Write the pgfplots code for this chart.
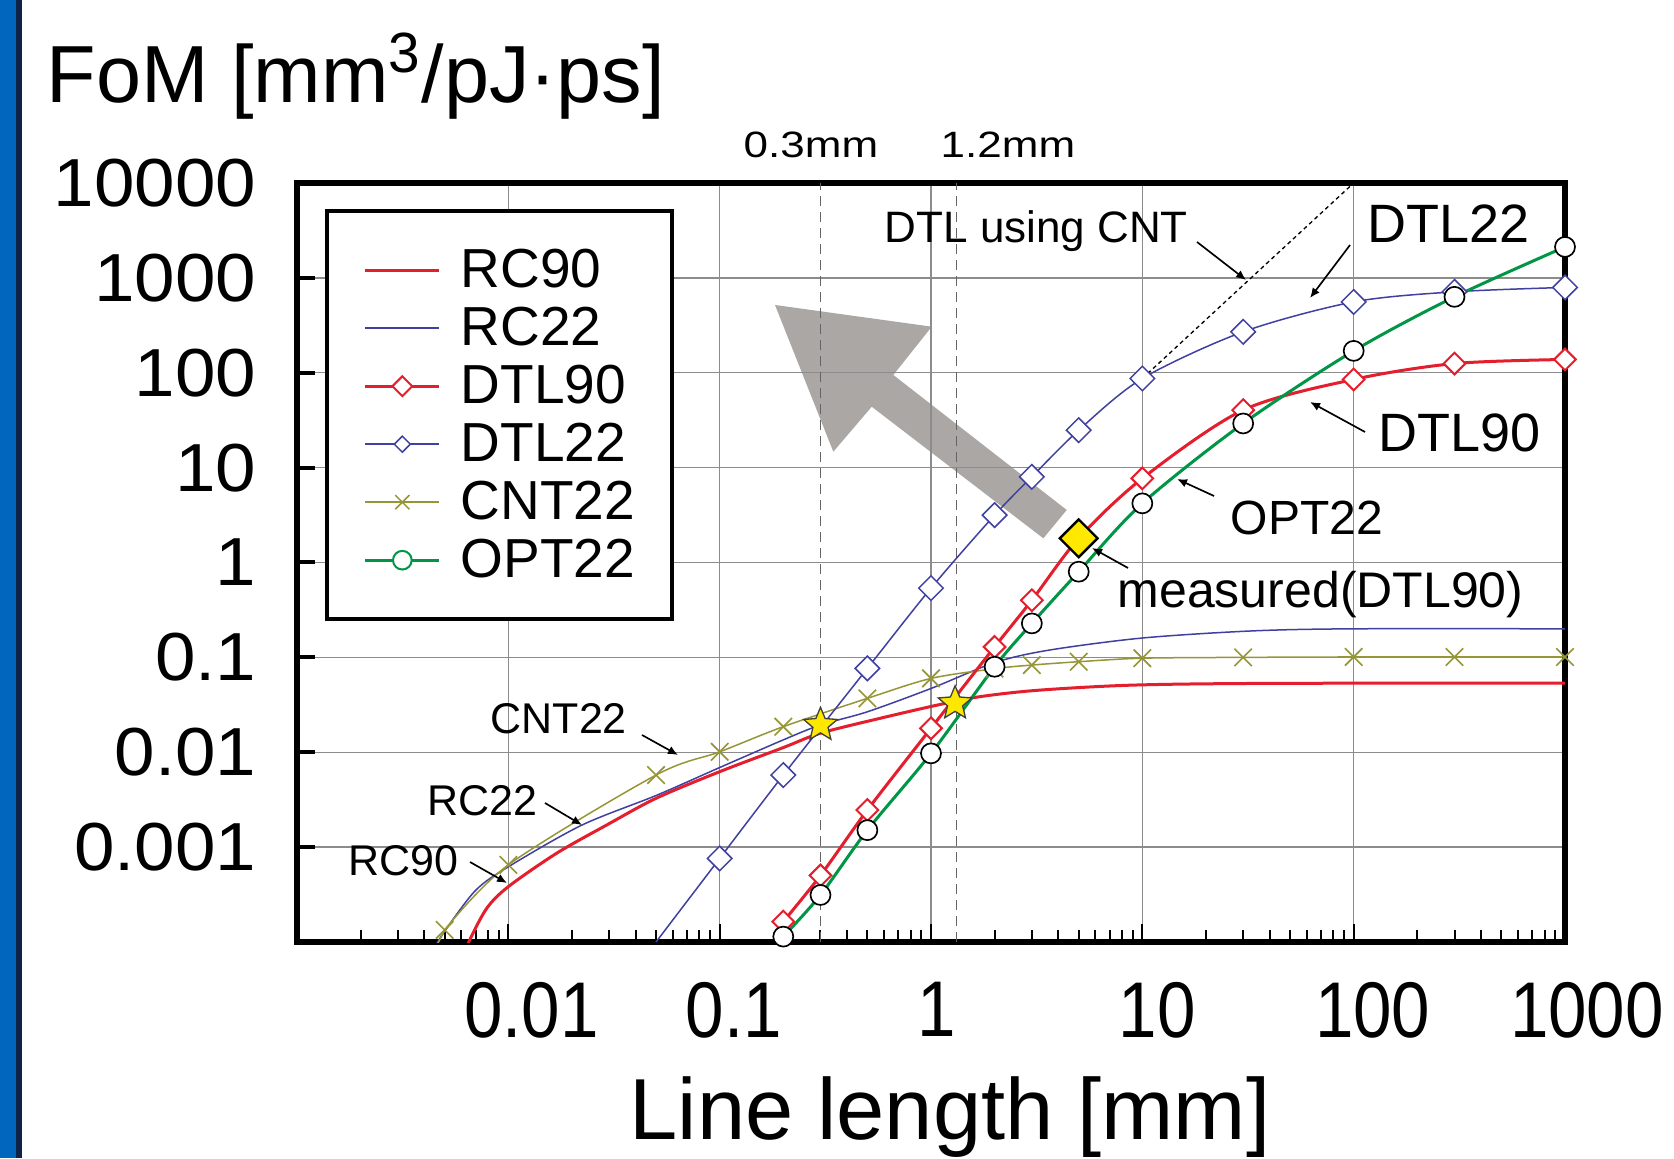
\documentclass[border=0pt]{standalone}
\usepackage{fontspec}
\setmainfont{Liberation Sans}
\newfontfamily\xtf[FakeStretch=0.875]{Liberation Sans}
\newfontfamily\ytf[FakeStretch=1.07]{Liberation Sans}
\newfontfamily\mmf[FakeStretch=1.2]{Liberation Sans}
\usepackage{pgfplots}
\pgfplotsset{compat=1.18}
\usetikzlibrary{arrows.meta}

\definecolor{cred}{RGB}{228,30,45}
\definecolor{cblue}{RGB}{64,64,160}
\definecolor{colive}{RGB}{150,150,55}
\definecolor{cgreen}{RGB}{0,150,70}
\definecolor{cgrid}{RGB}{140,140,140}
\definecolor{cdash}{RGB}{100,100,100}
\definecolor{carrow}{RGB}{170,167,165}
\definecolor{cyellow}{RGB}{255,232,0}
\definecolor{slideblue}{RGB}{0,102,190}
\definecolor{slideedge}{RGB}{15,35,70}

\newcommand{\fs}[1]{\fontsize{#1}{#1}\selectfont}
% shift a tick label right by half of #1
\newcommand{\xs}[2]{\hspace*{#1}#2}

% filled five-pointed star
\pgfdeclareplotmark{fstar}{%
  \pgfpathmoveto{\pgfpointpolar{90}{\pgfplotmarksize}}%
  \pgfpathlineto{\pgfpointpolar{126}{0.45\pgfplotmarksize}}%
  \pgfpathlineto{\pgfpointpolar{162}{\pgfplotmarksize}}%
  \pgfpathlineto{\pgfpointpolar{198}{0.45\pgfplotmarksize}}%
  \pgfpathlineto{\pgfpointpolar{234}{\pgfplotmarksize}}%
  \pgfpathlineto{\pgfpointpolar{270}{0.45\pgfplotmarksize}}%
  \pgfpathlineto{\pgfpointpolar{306}{\pgfplotmarksize}}%
  \pgfpathlineto{\pgfpointpolar{342}{0.45\pgfplotmarksize}}%
  \pgfpathlineto{\pgfpointpolar{18}{\pgfplotmarksize}}%
  \pgfpathlineto{\pgfpointpolar{54}{0.45\pgfplotmarksize}}%
  \pgfpathclose
  \pgfusepathqfillstroke}

\begin{document}
\begin{tikzpicture}
\useasboundingbox (0,0) rectangle (502.2pt,347.4pt);
% background pieces, in pixels of the reference (y downwards)
\begin{scope}[x=0.3pt,y=-0.3pt,yshift=347.4pt]
  \fill[white] (0,0) rectangle (1674,1158);
  \fill[slideblue] (0,0) rectangle (16,1158);
  \fill[slideedge] (16,0) rectangle (22,1158);
  % big grey arrow, under the grid
  \fill[carrow] (775,305) -- (931.7,326.7) -- (893.3,375) -- (1066.7,510)
    -- (1043.3,538.3) -- (871.7,406.7) -- (833.3,451.7) -- cycle;
\end{scope}

\begin{axis}[
  at={(89.1pt,64.8pt)}, anchor=south west,
  scale only axis, width=380.4pt, height=227.7pt,
  xmode=log, ymode=log,
  xmin=0.001, xmax=1000, ymin=0.0001, ymax=10000,
  axis line style={line width=1.8pt},
  tick pos=left, tick align=inside,
  major tick length=5.4pt, minor tick length=3.6pt,
  xtick={0.01,0.1,1,10,100,1000},
  xticklabels={\xs{13.8pt}{0.01},\xs{8.4pt}{0.1},\xs{3.6pt}{1},\xs{9pt}{10},\xs{11.4pt}{100},\xs{13.2pt}{1000}},
  minor xtick={0.002,0.003,0.004,0.005,0.006,0.007,0.008,0.009,
               0.02,0.03,0.04,0.05,0.06,0.07,0.08,0.09,
               0.2,0.3,0.4,0.5,0.6,0.7,0.8,0.9,
               2,3,4,5,6,7,8,9,20,30,40,50,60,70,80,90,
               200,300,400,500,600,700,800,900},
  ytick={0.001,0.01,0.1,1,10,100,1000,10000},
  yticklabels={0.001,0.01,0.1,1,10,100,1000,10000},
  minor ytick={},
  minor y tick style={draw=none},
  xtick style={line width=0.6pt, black},
  ytick style={line width=1.2pt, black},
  xticklabel style={font=\xtf\fs{23.7pt}, inner sep=0pt, anchor=north, yshift=-11.9pt},
  yticklabel style={font=\ytf\fs{20.4pt}, inner sep=0pt, anchor=east, xshift=-12pt},
  grid=major,
  major grid style={line width=0.4pt, draw=cgrid},
  legend style={at={(0.0221,0.9657)}, anchor=north west, draw=black,
    line width=1.3pt, fill=white, font=\fs{16.5pt},
    inner xsep=11pt, inner ysep=9pt, row sep=0pt,
    nodes={inner sep=0pt, text height=13.8pt, text depth=3.6pt},
    /tikz/every odd column/.append style={column sep=6pt}},
  legend cell align=left,
  legend image code/.code={\draw[mark repeat=2,mark phase=2]
    plot coordinates {(0pt,0pt)(11.1pt,0pt)(22.2pt,0pt)};},
]

% legend entries
\addlegendimage{cred, line width=0.9pt}
\addlegendentry{RC90}
\addlegendimage{cblue, line width=0.45pt}
\addlegendentry{RC22}
\addlegendimage{cred, line width=0.9pt, mark=square*, mark size=2.1pt,
  mark options={rotate=45, fill=white, draw=cred, line width=0.6pt}}
\addlegendentry{DTL90}
\addlegendimage{cblue, line width=0.45pt, mark=square*, mark size=1.7pt,
  mark options={rotate=45, fill=white, draw=cblue, line width=0.45pt}}
\addlegendentry{DTL22}
\addlegendimage{colive, line width=0.45pt, mark=x, mark size=3pt,
  mark options={line width=0.45pt}}
\addlegendentry{CNT22}
\addlegendimage{cgreen, line width=0.9pt, mark=*, mark size=2.8pt,
  mark options={fill=white, draw=cgreen, line width=0.6pt}}
\addlegendentry{OPT22}

% 0.3 mm and 1.2 mm guides
\draw[cdash, line width=0.35pt, dash pattern=on 3pt off 1.8pt]
  (axis cs:0.3,0.0001) -- (axis cs:0.3,10000);
\draw[cdash, line width=0.35pt, dash pattern=on 3pt off 1.8pt]
  (axis cs:1.32,0.0001) -- (axis cs:1.32,10000);

% DTL using CNT
\addplot[black, line width=0.4pt, dash pattern=on 1.2pt off 1pt, forget plot]
  coordinates {(10,87)(100,10000)};

% RC90
\addplot[cred, line width=0.9pt, smooth, forget plot] coordinates {
  (0.006,0.00006)(0.0065,0.0001)(0.0079,0.000226)(0.01,0.000383)
  (0.0169,0.00086)(0.0292,0.00171)(0.05,0.00327)(0.1,0.00624)
  (0.2,0.0112)(0.3,0.0159)(0.57,0.0227)(1.07,0.0314)(1.7,0.0385)
  (3.2,0.045)(9,0.051)(40,0.0532)(1000,0.0535)};

% RC22
\addplot[cblue, line width=0.45pt, smooth, forget plot] coordinates {
  (0.0042,0.00007)(0.005,0.00013)(0.007,0.00035)(0.01,0.00062)
  (0.0222,0.0017)(0.05,0.0035)(0.1,0.0069)(0.2,0.0135)(0.3,0.0194)
  (0.5,0.0267)(1,0.047)(2,0.088)(3.6,0.119)(10,0.16)(33,0.19)
  (100,0.2)(1000,0.2)};

% CNT22
\addplot[colive, line width=0.45pt, forget plot] coordinates {
  (0.004,0.00005)(0.005,0.000134)};
\addplot[colive, line width=0.45pt, smooth, mark=x, mark size=3.7pt,
  mark options={line width=0.5pt}, forget plot] coordinates {
  (0.005,0.000134)(0.01,0.00065)(0.05,0.00575)(0.1,0.0101)(0.2,0.0186)
  (0.5,0.037)(1,0.060)(2,0.076)(3,0.083)(5,0.09)(10,0.098)(30,0.1)
  (100,0.101)(300,0.101)(1000,0.101)};

% DTL22
\addplot[cblue, line width=0.45pt, forget plot] coordinates {
  (0.05,0.0001)(0.1,0.00076)};
\addplot[cblue, line width=0.45pt, smooth, mark=square*, mark size=2.6pt,
  mark options={rotate=45, fill=white, draw=cblue, line width=0.45pt},
  forget plot] coordinates {
  (0.1,0.00076)(0.2,0.00575)(0.5,0.0766)(1,0.537)(2,3.16)(3,8.0)
  (5,24.8)(10,87)(30,270)(100,558)(300,713)(1000,793)};

% DTL90
\addplot[cred, line width=0.9pt, smooth, mark=square*, mark size=2.3pt,
  mark options={rotate=45, fill=white, draw=cred, line width=0.6pt},
  forget plot] coordinates {
  (0.2,0.000164)(0.3,0.000503)(0.5,0.00246)(1,0.0179)(2,0.129)(3,0.40)
  (5,1.8)(10,7.7)(30,40.4)(100,85)(300,125)(1000,138)};

% OPT22
\addplot[cgreen, line width=0.9pt, smooth, mark=*, mark size=3pt,
  mark options={fill=white, draw=black, line width=0.5pt},
  forget plot] coordinates {
  (0.2,0.000114)(0.3,0.000313)(0.5,0.00151)(1,0.00973)(2,0.0797)
  (3,0.228)(5,0.80)(10,4.2)(30,29.2)(100,170)(300,631)(1000,2120)};

% crossing points
\addplot[only marks, mark=fstar, mark size=5.3pt,
  mark options={fill=cyellow, draw=black!75, line width=0.4pt},
  forget plot] coordinates {(0.3,0.0194)(1.3,0.0327)};

% measured (DTL90)
\addplot[only marks, mark=square*, mark size=4pt,
  mark options={rotate=45, fill=cyellow, draw=black, line width=0.7pt},
  forget plot] coordinates {(5,1.8)};
\end{axis}

% titles and call-outs
\begin{scope}[x=0.3pt,y=-0.3pt,yshift=347.4pt,
  every node/.style={inner sep=0pt, anchor=base west},
  call/.style={black, line width=0.5pt, -{Latex[length=3pt,width=2.6pt]}}]
  \node[font=\fs{24.3pt}] at (46,103) {FoM [mm\textsuperscript{3}/pJ·ps]};
  \node[font=\fs{26pt}, anchor=base] at (950,1139) {Line length [mm]};
  \node[font=\mmf\fs{11pt}] at (743,158) {0.3mm};
  \node[font=\mmf\fs{11pt}] at (940,158) {1.2mm};
  \node[font=\fs{13.2pt}] at (884,243) {DTL using CNT};
  \node[font=\fs{16.2pt}] at (1367,243) {DTL22};
  \node[font=\fs{16.2pt}] at (1378,452) {DTL90};
  \node[font=\fs{14.4pt}] at (1230,535) {OPT22};
  \node[font=\fs{15pt}] at (1117,608) {measured(DTL90)};
  \node[font=\fs{12.9pt}] at (490,733) {CNT22};
  \node[font=\fs{12.9pt}] at (427,815) {RC22};
  \node[font=\fs{12.9pt}] at (348,875) {RC90};
  \draw[call] (1197,242) -- (1246,280);
  \draw[call] (1350,245) -- (1310,298);
  \draw[call] (1365,432) -- (1310,402);
  \draw[call] (1214,496) -- (1177,479);
  \draw[call] (1128,568) -- (1092,548);
  \draw[call] (642,735) -- (678,755);
  \draw[call] (545,803) -- (582,825);
  \draw[call] (470,862) -- (507,883);
\end{scope}
\end{tikzpicture}
\end{document}
